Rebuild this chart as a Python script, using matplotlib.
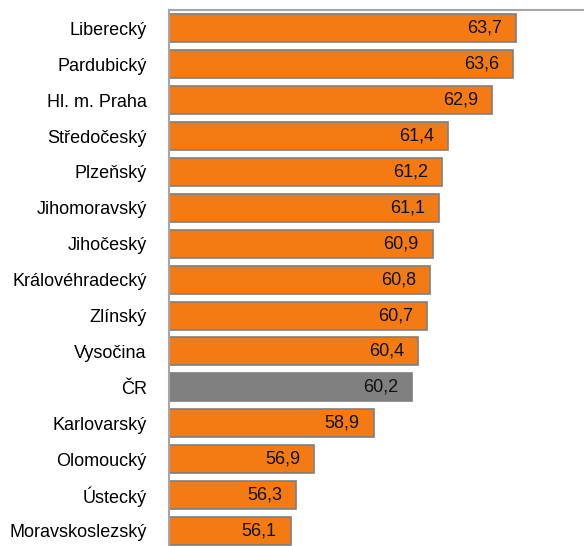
import matplotlib
matplotlib.use('Agg')
import matplotlib.pyplot as plt

plt.rcParams['font.family'] = ['Liberation Sans', 'DejaVu Sans']

regions = ['Liberecký', 'Pardubický', 'Hl. m. Praha', 'Středočeský', 'Plzeňský',
           'Jihomoravský', 'Jihočeský', 'Královéhradecký', 'Zlínský', 'Vysočina',
           'ČR', 'Karlovarský', 'Olomoucký', 'Ústecký', 'Moravskoslezský']
values = [63.7, 63.6, 62.9, 61.4, 61.2, 61.1, 60.9, 60.8, 60.7, 60.4,
          60.2, 58.9, 56.9, 56.3, 56.1]

orange = '#F47B14'
grey = '#808080'
colors = [grey if r == 'ČR' else orange for r in regions]

fig = plt.figure(figsize=(5.84, 5.46), dpi=100)
ax = fig.add_axes([169 / 584, 0, 415 / 584, 536 / 546])

y = list(range(len(regions)))
ax.barh(y, [v - 52 for v in values], left=52, height=0.78, color=colors,
        edgecolor='#7f7f7f', linewidth=1.2)

for i, v in enumerate(values):
    ax.annotate(f'{v:.1f}'.replace('.', ','), xy=(v, i), xytext=(-14, 0),
                textcoords='offset pixels', ha='right', va='center',
                fontsize=13, color='#111111')

ax.set_xlim(52, 66)
ax.set_ylim(14.42, -0.51)
ax.set_yticks(y)
ax.set_yticklabels(regions, fontsize=13)
ax.tick_params(axis='y', length=0, pad=16)
ax.set_xticks([])

for s in ['bottom', 'right']:
    ax.spines[s].set_visible(False)
for s in ['top', 'left']:
    ax.spines[s].set_color('#a6a6a6')
    ax.spines[s].set_linewidth(1.5)

fig.savefig('out.png', dpi=100)
